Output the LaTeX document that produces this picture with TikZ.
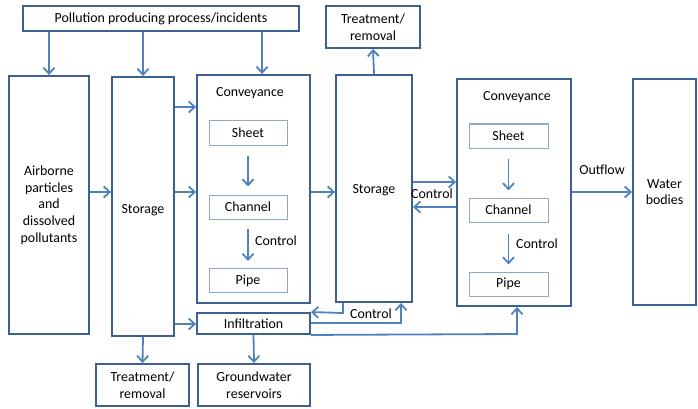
\documentclass[tikz,border=0pt]{standalone}
\usepackage{fontspec}
\setmainfont{Carlito}
\usetikzlibrary{arrows.meta}
\definecolor{boxc}{RGB}{60,96,145}
\definecolor{arrc}{RGB}{79,129,189}
\definecolor{innc}{RGB}{140,170,205}
\begin{document}
\begin{tikzpicture}[x=1pt,y=-1pt,
  every node/.style={font=\fontsize{13.9}{16.7}\selectfont, inner sep=0pt, align=center},
  bigbox/.style={draw=boxc, line width=1.9pt},
  innbox/.style={draw=innc, line width=1pt},
  arr/.style={draw=arrc, line width=1.8pt, -{Straight Barb[length=6pt,width=11pt]}},
  ln/.style={draw=arrc, line width=1.8pt},
  lbl/.style={}]
\useasboundingbox (0,0) rectangle (698,409);
% boxes
\node[bigbox, minimum width=276, minimum height=25] (top) at (161,18.5) {Pollution producing process/incidents};
\node[bigbox, minimum width=80, minimum height=258] (air) at (49,205) {Airborne\\particles\\and\\dissolved\\pollutants};
\node[bigbox, minimum width=62, minimum height=259] (st1) at (143,206.5) {};
\node at (143,210) {Storage};
\node[bigbox, minimum width=113, minimum height=228] (conv1) at (253.5,189) {};
\node (conv1t) at (250,93) {Conveyance};
\node[innbox, minimum width=78, minimum height=24] (sheet1) at (248,133) {Sheet};
\node[innbox, minimum width=78, minimum height=24] (chan1) at (248,207) {Channel};
\node[innbox, minimum width=78, minimum height=24] (pipe1) at (248,280.5) {Pipe};
\node[bigbox, minimum width=76, minimum height=227] (st2) at (374,188.5) {};
\node at (374,190) {Storage};
\node[bigbox, minimum width=94, minimum height=42] (treattop) at (373,27) {Treatment/\\removal};
\node[bigbox, minimum width=114, minimum height=227] (conv2) at (514,192.5) {};
\node (conv2t) at (517,97) {Conveyance};
\node[innbox, minimum width=79, minimum height=24] (sheet2) at (508.5,136) {Sheet};
\node[innbox, minimum width=79, minimum height=24] (chan2) at (508.5,210) {Channel};
\node[innbox, minimum width=79, minimum height=24] (pipe2) at (508.5,284) {Pipe};
\node[bigbox, minimum width=63, minimum height=226] (water) at (664.5,192) {Water\\bodies};
\node[bigbox, minimum width=113, minimum height=21] (infil) at (253.5,323.5) {Infiltration};
\node[bigbox, minimum width=93, minimum height=42] (treatbot) at (142.5,385) {Treatment/\\removal};
\node[bigbox, minimum width=112, minimum height=42] (gw) at (254,385) {Groundwater\\reservoirs};
% labels
\node (c1) at (276,241) {Control};
\node (c2) at (537,244) {Control};
\node (c3) at (432,194) {Control};
\node (c4) at (371,314) {Control};
\node (outfl) at (602,170) {Outflow};
% arrows from top
\draw[arr] (top.south -| air.north) -- (air.north);
\draw[arr] (top.south -| st1.north) -- (st1.north);
\draw[arr] (top.south -| 262,0) -- (262,0 |- conv1.north);
% horizontal flows
\draw[arr] (air.east |- 0,192) -- (st1.west |- 0,192);
\draw[arr] (st1.east |- 0,107) -- (conv1.west |- 0,107);
\draw[arr] (st1.east |- 0,192) -- (conv1.west |- 0,192);
\draw[arr] (conv1.east |- 0,192) -- (st2.west |- 0,192);
\draw[arr] (st2.north) -- (treattop.south);
\draw[arr] (st2.east |- 0,182) -- (conv2.west |- 0,182);
\draw[arr] (conv2.west |- 0,207) -- (st2.east |- 0,207);
\draw[arr] (conv2.east |- 0,192) -- (water.west |- 0,192);
% inner flows
\draw[arr, shorten <=10pt, shorten >=8pt] (sheet1.south) -- (chan1.north);
\draw[arr, shorten <=9pt, shorten >=7pt] (chan1.south) -- (pipe1.north);
\draw[arr, shorten <=10pt, shorten >=7pt] (sheet2.south) -- (chan2.north);
\draw[arr, shorten <=11pt, shorten >=7pt] (chan2.south) -- (pipe2.north);
% bottom flows
\draw[arr] (st1.east |- 0,324) -- (infil.west |- 0,324);
\draw[arr] (st1.south) -- (treatbot.north);
\draw[arr] (infil.south) -- (gw.north);
\draw[arr] (st2.south -| 343,0) -- (343,313) -- (infil.north east);
\draw[arr] (infil.east |- 0,323) -- (401,323) -- (401,0 |- st2.south);
\draw[arr] (infil.south east) -- (517,334) -- (517,0 |- conv2.south);
\end{tikzpicture}
\end{document}
